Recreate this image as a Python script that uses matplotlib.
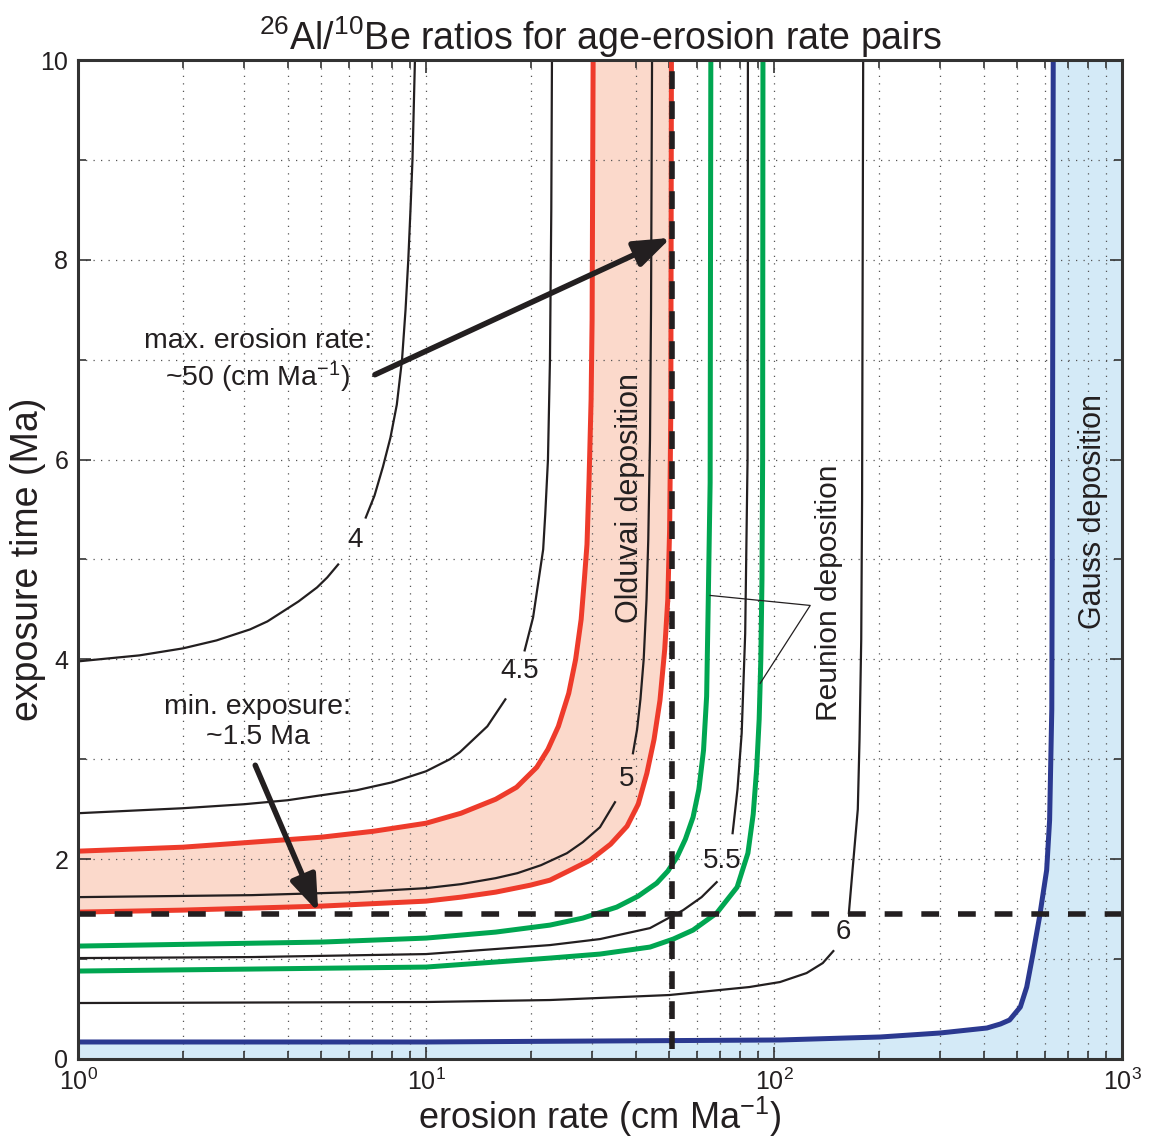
#!/usr/bin/env python3
"""26Al/10Be ratio contours in exposure-time / erosion-rate space."""

import matplotlib
import numpy as np

matplotlib.use("Agg")
import matplotlib.pyplot as plt
from matplotlib.ticker import FixedLocator, MultipleLocator

NAN = np.nan

# contour lines (erosion rate cm/Ma, exposure time Ma); NaN = gap for the label
ratio_4_x = [1, 1.5, 2, 2.5, 3.12, 3.5, 3.88, 4.3, 4.86, 5.2, 5.59, NAN,
             6.71, 7.11, 7.52, 7.9, 8.24, 8.53, 8.73, 8.89, 9.02, 9.14, 9.29]
ratio_4_y = [3.98, 4.04, 4.11, 4.19, 4.30, 4.38, 4.48, 4.58, 4.72, 4.82, 4.95, NAN,
             5.42, 5.64, 5.93, 6.22, 6.55, 7.0, 7.5, 8.0, 8.5, 9.0, 10]

ratio_45_x = [1, 2, 3, 4, 5, 6.31, 8, 10, 11.7, 12.5, 15, 16.9, NAN,
              19.2, 20.3, 21.7, 22.0, 22.4, 22.7, 22.9, 23.0]
ratio_45_y = [2.46, 2.51, 2.55, 2.59, 2.64, 2.69, 2.77, 2.88, 3.0, 3.07, 3.33, 3.6, NAN,
              4.09, 4.42, 5.1, 5.45, 6.0, 7.0, 8.5, 10]

ratio_5_x = [1, 3.16, 6.31, 10, 12.6, 15.85, 18.3, 21.4, 25.4, 28.2, 31.6, 34.9, NAN,
             39.3, 40.4, 41.3, 42.2, 43.0, 43.5, 44.0, 44.3, 44.6]
ratio_5_y = [1.62, 1.64, 1.67, 1.71, 1.75, 1.81, 1.86, 1.94, 2.06, 2.17, 2.32, 2.57, NAN,
             3.06, 3.3, 3.6, 4.0, 4.6, 5.2, 6.2, 7.5, 10]

ratio_55_x = [1, 3.16, 10, 22.7, 31.6, 44.0, 54.8, 61.9, 68.4, NAN,
              76.0, 78.5, 80.7, 82.6, 83.9, 84.1]
ratio_55_y = [1.01, 1.02, 1.05, 1.14, 1.2, 1.31, 1.49, 1.62, 1.77, NAN,
              2.26, 2.7, 3.26, 4.26, 6.0, 10]

ratio_6_x = [1, 10, 22.7, 50, 84.9, 104, 124, 138, 148, NAN,
             164, 169, 174, 176, 178, 179, 180.3]
ratio_6_y = [0.56, 0.57, 0.59, 0.64, 0.72, 0.77, 0.86, 0.96, 1.08, NAN,
             1.46, 1.99, 2.5, 3.2, 4.2, 5.6, 10]

# Olduvai band limits
olduvai_upper_x = [1, 2, 5, 7.08, 10, 12.6, 15.85, 18.2, 20.8, 22.4, 24.0, 25.7, 26.9,
                   27.9, 28.5, 29.0, 29.4, 29.8, 30.0, 30.2]
olduvai_upper_y = [2.08, 2.12, 2.22, 2.28, 2.36, 2.46, 2.6, 2.72, 2.92, 3.1, 3.33, 3.66, 4.0,
                   4.4, 4.8, 5.15, 5.8, 6.6, 7.4, 10]
olduvai_lower_x = [1, 2, 5, 10, 12.6, 15.85, 19.95, 22.7, 26.3, 29.6, 33.9, 37.8, 40.7,
                   43.1, 45.2, 47.0, 48.5, 49.5, 50.1, 50.5, 50.7]
olduvai_lower_y = [1.47, 1.49, 1.53, 1.58, 1.62, 1.67, 1.74, 1.79, 1.9, 1.99, 2.15, 2.33, 2.55,
                   2.86, 3.2, 3.59, 4.1, 4.6, 5.3, 6.5, 10]

# Reunion limits
reunion_inner_x = [1, 5, 10, 15.85, 22.7, 28.2, 35.3, 40.7, 46.0, 49.5, 52.6, 55.6, 58.5,
                   60.8, 62.7, 64.0, 64.7, 65.5, 65.8]
reunion_inner_y = [1.13, 1.17, 1.21, 1.27, 1.34, 1.41, 1.52, 1.63, 1.76, 1.88, 2.02, 2.2, 2.42,
                   2.7, 3.09, 3.63, 4.6, 5.77, 10]
reunion_outer_x = [1, 10, 22.7, 31.6, 44.0, 51.3, 58.5, 68.4, 78.3, 84.1, 87.1, 89.1, 90.6,
                   91.6, 92.3, 92.7, 92.9]
reunion_outer_y = [0.88, 0.92, 1.01, 1.05, 1.12, 1.2, 1.29, 1.46, 1.72, 2.06, 2.45, 2.9, 3.4,
                   4.0, 4.8, 6.0, 10]

# Gauss limit
gauss_x = [1, 10, 104, 202, 300, 409, 447, 475, 510, 532, 555, 579, 607, 619, 628, 631, 634]
gauss_y = [0.17, 0.17, 0.19, 0.22, 0.26, 0.31, 0.35, 0.39, 0.52, 0.72, 1.06, 1.42, 1.89,
           2.39, 3.5, 6, 10]

max_erosion = 51
min_exposure = 1.45

contour_labels = ["4", "4.5", "5", "5.5", "6"]
contour_label_x = [6.25, 18.6, 37.8, 70.9, 158]
contour_label_y = [5.2, 3.88, 2.8, 1.98, 1.27]

XLIM = (1, 1000)
YLIM = (0, 10)

BLACK = "#231f20"
RED = "#ee3b2b"
PINK = "#fbd9cb"
GREEN = "#00a651"
BLUE = "#2b3990"
LIGHTBLUE = "#d4eaf7"

plt.rcParams["font.family"] = ["Liberation Sans", "DejaVu Sans"]
plt.rcParams["mathtext.fontset"] = "custom"
plt.rcParams["mathtext.rm"] = "Liberation Sans"
plt.rcParams["mathtext.it"] = "Liberation Sans"
plt.rcParams["mathtext.default"] = "rm"

fig = plt.figure(figsize=(11.58, 11.41), dpi=100)
ax = fig.add_axes([0.0674, 0.0719, 0.9016, 0.8755])
ax.set_xscale("log")
ax.set_xlim(*XLIM)
ax.set_ylim(*YLIM)

# shaded deposition fields
ax.fill(olduvai_upper_x + olduvai_lower_x[::-1], olduvai_upper_y + olduvai_lower_y[::-1],
        color=PINK, lw=0, zorder=0.5)
ax.fill(gauss_x + [XLIM[1], XLIM[1], XLIM[0]], gauss_y + [YLIM[1], YLIM[0], YLIM[0]],
        color=LIGHTBLUE, lw=0, zorder=0.5)

for xs, ys in [(ratio_4_x, ratio_4_y), (ratio_45_x, ratio_45_y), (ratio_5_x, ratio_5_y),
               (ratio_55_x, ratio_55_y), (ratio_6_x, ratio_6_y)]:
    ax.plot(xs, ys, color=BLACK, lw=1.6, zorder=3, solid_joinstyle="round")

for xs, ys, c in [(olduvai_upper_x, olduvai_upper_y, RED), (olduvai_lower_x, olduvai_lower_y, RED),
                  (reunion_inner_x, reunion_inner_y, GREEN), (reunion_outer_x, reunion_outer_y, GREEN),
                  (gauss_x, gauss_y, BLUE)]:
    ax.plot(xs, ys, color=c, lw=3.6, zorder=3, solid_joinstyle="round")

for txt, lx, ly in zip(contour_labels, contour_label_x, contour_label_y):
    ax.text(lx, ly, txt, fontsize=20, color=BLACK, ha="center", va="center", zorder=4)

# limits picked off the diagram
ax.plot([max_erosion, max_erosion], [0.1, YLIM[1]], color=BLACK, lw=4, ls=(0, (3.2, 2.2)), zorder=4)
ax.plot(XLIM, [min_exposure, min_exposure], color=BLACK, lw=4, ls=(0, (3.2, 3.4)), zorder=4)

arrow = dict(arrowstyle="-|>,head_length=0.55,head_width=0.2", lw=4, color=BLACK,
             mutation_scale=40, shrinkA=0, shrinkB=0)
ax.annotate("", xy=(50.5, 8.22), xytext=(7.13, 6.85), arrowprops=arrow, zorder=5)
ax.annotate("", xy=(4.9, 1.47), xytext=(3.23, 2.94), arrowprops=arrow, zorder=5)

ax.text(3.28, 6.98, "max. erosion rate:\n~50 (cm Ma$^{-1}$)", fontsize=20.5, color=BLACK,
        ha="center", va="center", linespacing=1.2, zorder=5)
ax.text(3.28, 3.37, "min. exposure:\n~1.5 Ma", fontsize=20.5, color=BLACK,
        ha="center", va="center", linespacing=1.2, zorder=5)

ax.text(38.5, 5.62, "Olduvai deposition", rotation=90, fontsize=22,
        color=BLACK, ha="center", va="center", zorder=5)
ax.text(144, 4.67, "Reunion deposition", rotation=90, fontsize=21.5,
        color=BLACK, ha="center", va="center", zorder=5)
ax.text(825, 5.48, "Gauss deposition", rotation=90, fontsize=22,
        color=BLACK, ha="center", va="center", zorder=5)

# leader lines from the Reunion label to its two bounding curves
ax.plot([65.5, 127, 91.2], [4.64, 4.54, 3.76], color=BLACK, lw=0.9, zorder=5)

ax.set_title("$^{26}$Al/$^{10}$Be ratios for age-erosion rate pairs", fontsize=27,
             color=BLACK, pad=4)
ax.set_xlabel("erosion rate (cm Ma$^{-1}$)", fontsize=26, color=BLACK)
ax.set_ylabel("exposure time (Ma)", fontsize=27, color=BLACK)
ax.xaxis.set_label_coords(0.5, -0.036)
ax.yaxis.set_label_coords(-0.031, 0.5)

ax.xaxis.set_major_locator(FixedLocator([1, 10, 100, 1000]))
ax.set_xticklabels(["$10^0$", "$10^1$", "$10^2$", "$10^3$"])
ax.yaxis.set_major_locator(MultipleLocator(2))
ax.yaxis.set_minor_locator(MultipleLocator(1))
ax.tick_params(which="both", direction="in", top=True, right=True, colors="#333333",
               labelcolor=BLACK, labelsize=18, width=1.2)
ax.tick_params(which="major", length=9)
ax.tick_params(which="minor", length=6)
ax.tick_params(axis="x", pad=7)
ax.tick_params(axis="y", pad=7)

ax.grid(which="both", color="#555555", ls=(0, (1, 5)), lw=0.9, zorder=1)
for sp in ax.spines.values():
    sp.set_linewidth(2.2)
    sp.set_color("#333333")
    sp.set_zorder(6)

fig.savefig("out.png", dpi=100)
